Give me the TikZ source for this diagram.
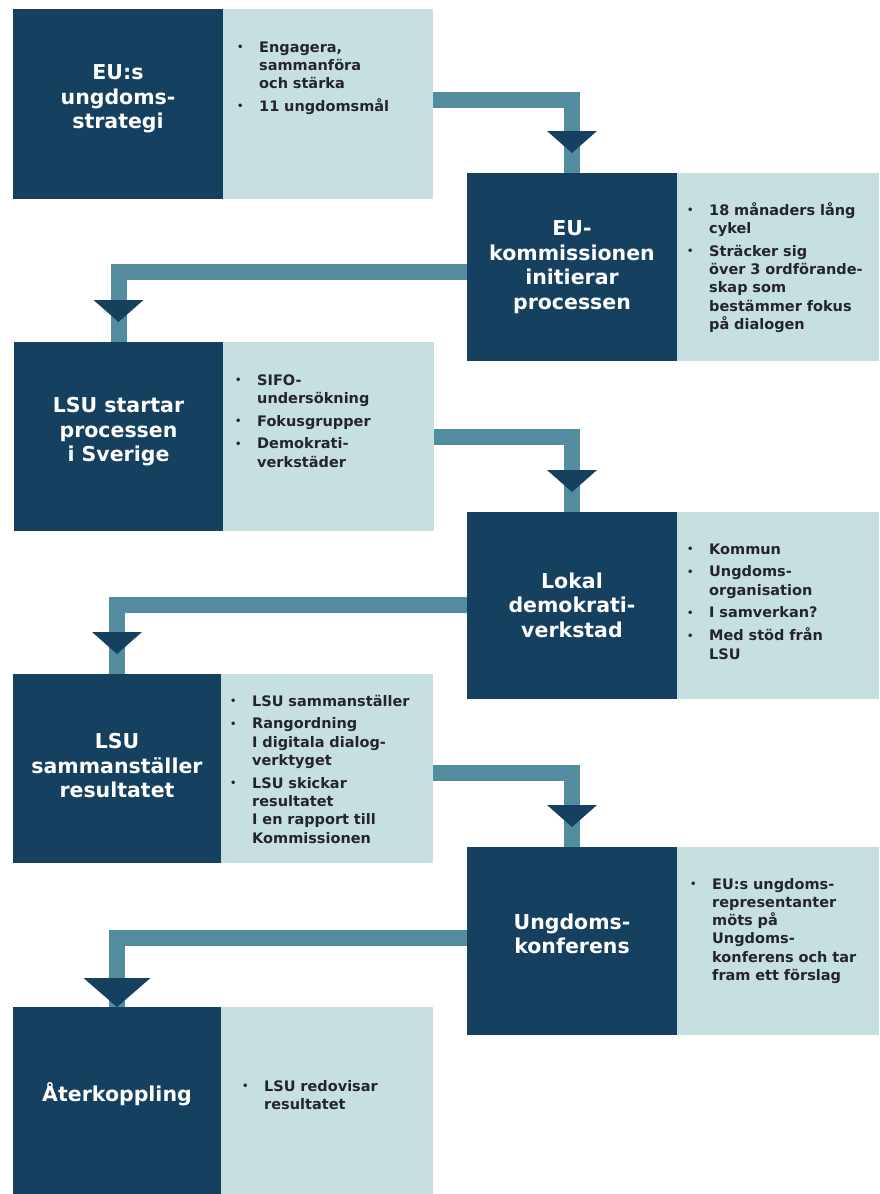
\documentclass[tikz,border=0pt]{standalone}
\usepackage{fontspec}
\setmainfont{DejaVu Sans}
\usetikzlibrary{calc}
\definecolor{navy}{HTML}{16405F}
\definecolor{pale}{HTML}{C6E0E2}
\definecolor{connc}{HTML}{528C9E}
\definecolor{ink}{HTML}{24242E}
\newcommand\bitem[1]{\par\noindent\hangindent=22pt\hangafter=1\makebox[22pt][l]{\raisebox{1.5pt}{\fontsize{10}{10}\selectfont •}}#1\par}
\begin{document}
\begin{tikzpicture}[x=1pt,y=-1pt,
  box/.style={inner sep=0pt, outer sep=0pt, anchor=north west, draw=none},
  darkbox/.style={box, fill=navy},
  palebox/.style={box, fill=pale},
  conn/.style={draw=connc, line width=16pt, line join=miter},
  head/.style={fill=navy},
  title/.style={text=white, font=\bfseries\fontsize{20.5}{24.5}\selectfont, align=center, inner sep=0pt},
  bul/.style={text=ink, text width=185pt, inner sep=0pt, anchor=north west,
    font=\bfseries\fontsize{14.5}{18.3}\selectfont,
    execute at begin node={\parindent=0pt\parskip=4.5pt}}
]
\useasboundingbox (0,0) rectangle (879,1194);
\fill[white] (0,0) rectangle (879,1194);

% boxes
\node[darkbox, minimum width=210pt, minimum height=190pt] (d1) at (13,9) {};
\node[palebox, minimum width=210pt, minimum height=190pt] (l1) at (223,9) {};
\node[darkbox, minimum width=210pt, minimum height=188pt] (d2) at (467,173) {};
\node[palebox, minimum width=202pt, minimum height=188pt] (l2) at (677,173) {};
\node[darkbox, minimum width=209pt, minimum height=189pt] (d3) at (14,342) {};
\node[palebox, minimum width=211pt, minimum height=189pt] (l3) at (223,342) {};
\node[darkbox, minimum width=210pt, minimum height=187pt] (d4) at (467,512) {};
\node[palebox, minimum width=202pt, minimum height=187pt] (l4) at (677,512) {};
\node[darkbox, minimum width=208pt, minimum height=189pt] (d5) at (13,674) {};
\node[palebox, minimum width=212pt, minimum height=189pt] (l5) at (221,674) {};
\node[darkbox, minimum width=210pt, minimum height=188pt] (d6) at (467,847) {};
\node[palebox, minimum width=202pt, minimum height=188pt] (l6) at (677,847) {};
\node[darkbox, minimum width=208pt, minimum height=187pt] (d7) at (13,1007) {};
\node[palebox, minimum width=212pt, minimum height=187pt] (l7) at (221,1007) {};

% connectors
\coordinate (s1) at (433,99.5);
\coordinate (s2) at (467,271.5);
\coordinate (s3) at (434,436.5);
\coordinate (s4) at (467,604.5);
\coordinate (s5) at (433,773);
\coordinate (s6) at (467,938);
\draw[conn] (s1) -| (d2.north);
\draw[conn] (s2) -| (d3.north);
\draw[conn] (s3) -| (d4.north);
\draw[conn] (s4) -| (d5.north);
\draw[conn] (s5) -| (d6.north);
\draw[conn] (s6) -| (d7.north);

% arrowheads
\foreach \n in {d2,d3,d4,d5,d6}{
  \fill[head] ($(\n.north)+(-25,-42)$) -- ++(50,0) -- ($(\n.north)+(0,-20)$) -- cycle;
}
\fill[head] ($(d7.north)+(-33.5,-29)$) -- ++(67,0) -- (d7.north) -- cycle;

% titles
\node[title] (t1) at (118,99) {EU:s\\ungdoms-\\strategi};
\node[title] (t2) at (572,267) {EU-\\kommissionen\\initierar\\processen};
\node[title] (t3) at (118.5,432) {LSU startar\\processen\\i Sverige};
\node[title] (t4) at (572,605) {Lokal\\demokrati-\\verkstad};
\node[title] (t5) at (117,766) {LSU\\sammanställer\\resultatet};
\node[title] (t6) at (572,934) {Ungdoms-\\konferens};
\node[title] (t7) at (117,1094) {Återkoppling};

% bullet lists
\node[bul] (b1) at (237,29) {\bitem{Engagera,\newline sammanföra\newline och stärka}\bitem{11 ungdomsmål}};
\node[bul] (b2) at (687,192) {\bitem{18 månaders lång\newline cykel}\bitem{Sträcker sig\newline över 3 ordförande-\newline skap som\newline bestämmer fokus\newline på dialogen}};
\node[bul] (b3) at (235,362) {\bitem{SIFO-\newline undersökning}\bitem{Fokusgrupper}\bitem{Demokrati-\newline verkstäder}};
\node[bul] (b4) at (687,531) {\bitem{Kommun}\bitem{Ungdoms-\newline organisation}\bitem{I samverkan?}\bitem{Med stöd från\newline LSU}};
\node[bul] (b5) at (230,683) {\bitem{LSU sammanställer}\bitem{Rangordning\newline I digitala dialog-\newline verktyget}\bitem{LSU skickar\newline resultatet\newline I en rapport till\newline Kommissionen}};
\node[bul] (b6) at (690,866) {\bitem{EU:s ungdoms-\newline representanter\newline möts på\newline Ungdoms-\newline konferens och tar\newline fram ett förslag}};
\node[bul] (b7) at (242,1068) {\bitem{LSU redovisar\newline resultatet}};
\end{tikzpicture}
\end{document}
